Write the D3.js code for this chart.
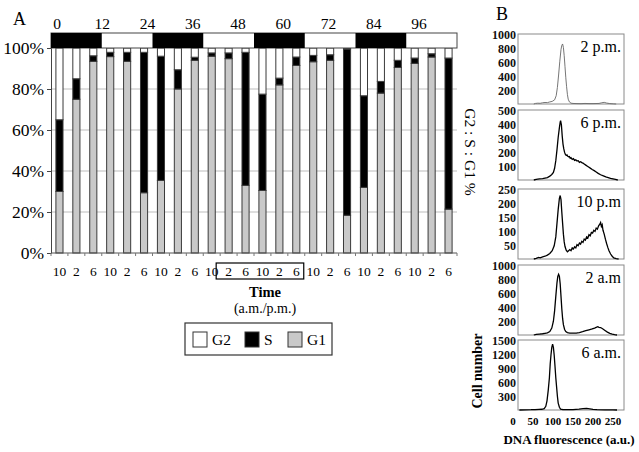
<!DOCTYPE html>
<html>
<head>
<meta charset="utf-8">
<script src="https://cdn.jsdelivr.net/npm/d3@7"></script>
<style>
  body { margin: 0; background: #fff; }
  svg { display: block; font-family: "Liberation Serif", "Times New Roman", serif; }
</style>
</head>
<body>
<svg id="chart" width="639" height="452"></svg>
<script>
// ---- panel A data: cell cycle phases (%) per sampling time ----
const timeLabels = ["10", "2", "6", "10", "2", "6", "10", "2", "6", "10", "2", "6",
                    "10", "2", "6", "10", "2", "6", "10", "2", "6", "10", "2", "6"];
const g1 = [30, 75, 93.5, 95.8, 93.5, 29.4, 35.4, 80, 94, 96, 94.8, 33,
            30.5, 82, 91.5, 93.3, 94, 18.4, 32, 78, 90.5, 92.5, 95.6, 21.4];
const sPhase = [35, 10, 2.7, 2.1, 4.4, 68.5, 60.6, 9.4, 1.5, 1.6, 2.8, 64.9,
                47, 3.3, 4.1, 3.1, 2.7, 81.1, 44.7, 5.7, 3.5, 2.6, 1.6, 73.7];
const g2 = [35, 15, 3.8, 2.1, 2.1, 2.1, 4, 10.6, 4.5, 2.4, 2.4, 2.1,
            22.5, 14.7, 4.4, 3.6, 3.3, 0.5, 23.3, 16.3, 6, 4.9, 2.8, 4.9];
const hourLabels = [0, 12, 24, 36, 48, 60, 72, 84, 96];
const darkPeriods = [[0, 12], [24, 36], [48, 60], [72, 84]];
const yTicks = [0, 20, 40, 60, 80, 100];
const boxedBars = [10, 14];

// ---- panel B data: DNA histograms [fluorescence, cell number] ----
const hist2pm = [[52,0],[56,8],[62,12],[68,10],[74,18],[80,22],[86,20],[92,30],[98,38],[104,60],[108,120],
  [111,240],[114,420],[117,620],[120,790],[122,850],[124,870],[126,820],[128,700],[130,540],[132,380],
  [134,250],[136,140],[138,70],[141,30],[145,12],[150,8],[160,6],[170,5],[180,8],[190,6],[200,6],
  [215,8],[222,18],[228,24],[234,14],[242,6],[252,2],[258,0]];
const hist6pm = [[52,0],[58,4],[66,8],[74,10],[80,14],[86,18],[92,28],[97,40],[101,55],[104,85],[107,140],
  [110,220],[113,310],[116,380],[118,420],[119,430],[121,400],[123,320],[125,260],[127,225],[129,200],
  [131,185],[133,178],[135,182],[137,172],[139,168],[141,170],[143,158],[145,162],[148,150],[151,155],
  [154,142],[157,146],[160,138],[163,140],[166,128],[169,132],[172,126],[175,122],[178,116],[182,108],
  [186,100],[190,92],[194,84],[198,76],[203,68],[208,58],[213,48],[219,38],[226,30],[232,22],[238,18],
  [244,12],[250,8],[256,4],[262,0]];
const hist10pm = [[52,0],[58,2],[64,6],[68,4],[74,8],[80,10],[86,14],[92,20],[98,30],[103,48],[107,80],
  [110,130],[113,180],[116,220],[118,230],[120,215],[122,170],[124,130],[126,90],[128,62],[130,45],
  [133,32],[136,26],[139,30],[142,34],[145,30],[148,40],[151,36],[154,44],[157,40],[160,52],[163,48],
  [166,58],[169,54],[172,64],[175,60],[178,72],[181,68],[184,80],[187,76],[190,88],[193,84],[196,96],
  [199,94],[202,104],[205,100],[208,112],[211,108],[214,120],[217,126],[219,132],[221,118],[223,124],
  [225,104],[228,90],[231,72],[234,56],[237,42],[240,30],[244,18],[248,10],[252,4],[258,1],[264,0]];
const hist2am = [[52,0],[58,10],[66,14],[74,18],[80,25],[86,32],[92,50],[97,100],[101,200],[104,350],
  [107,560],[110,760],[112,850],[114,880],[116,850],[118,740],[120,560],[122,380],[124,240],[126,150],
  [129,80],[132,50],[136,35],[142,28],[150,26],[158,28],[166,36],[174,48],[182,62],[190,76],[198,88],
  [204,100],[208,110],[212,120],[215,112],[219,108],[224,90],[230,66],[236,42],[242,24],[248,12],
  [254,5],[260,0]];
const hist6am = [[16,0],[30,4],[45,6],[55,10],[65,14],[72,16],[78,30],[82,80],[85,200],[88,420],[91,700],
  [93,1000],[95,1200],[97,1360],[99,1430],[101,1360],[103,1190],[105,950],[107,700],[109,500],[111,300],
  [113,150],[116,60],[119,20],[125,8],[135,8],[150,10],[165,18],[175,28],[184,34],[192,26],[200,12],
  [210,6],[230,3],[250,2],[260,0]];
const histLabels = ["2 p.m.", "6 p.m.", "10 p.m", "2 a.m", "6 a.m."];
const histMax = [1000, 500, 250, 1000, 1500];
const histStep = [200, 100, 50, 200, 300];
const fluorTicks = [0, 50, 100, 150, 200, 250];

const svg = d3.select("#chart");

// ================= Panel A =================
const A = { left: 51, right: 457, top: 48, bottom: 253 };

const rows = timeLabels.map((t, i) => ({ i, G1: g1[i], S: sPhase[i], G2: g2[i] }));
const stack = d3.stack().keys(["G1", "S", "G2"]);
const series = stack(rows);
const fills = { G1: "#c9c9c9", S: "#000", G2: "#fff" };

const x = d3.scaleBand().domain(d3.range(timeLabels.length)).range([A.left, A.right]);
const y = d3.scaleLinear().domain([0, 100]).range([A.bottom, A.top]);
const barW = x.bandwidth() * 0.42;

svg.append("text").attr("x", 13).attr("y", 25).attr("font-size", 18).text("A");

// gridlines
svg.append("g")
  .selectAll("line")
  .data(yTicks.filter(d => d > 0 && d < 100))
  .join("line")
  .attr("x1", A.left).attr("x2", A.right)
  .attr("y1", d => y(d)).attr("y2", d => y(d))
  .attr("stroke", "#bdbdbd").attr("stroke-width", 1);

// stacked bars
svg.append("g")
  .selectAll("g")
  .data(series)
  .join("g")
  .attr("fill", d => fills[d.key])
  .selectAll("rect")
  .data(d => d)
  .join("rect")
  .attr("x", d => x(d.data.i) + (x.bandwidth() - barW) / 2)
  .attr("y", d => y(d[1]))
  .attr("width", barW)
  .attr("height", d => y(d[0]) - y(d[1]))
  .attr("stroke", "#3a3a3a")
  .attr("stroke-width", 1);

// y axis
const yAxis = svg.append("g")
  .attr("transform", `translate(${A.left},0)`)
  .call(d3.axisLeft(y).tickValues(yTicks).tickFormat(d => d + "%").tickSize(4).tickPadding(3));
yAxis.select(".domain").attr("stroke", "#444");
yAxis.selectAll(".tick line").attr("stroke", "#444");
yAxis.selectAll("text").attr("font-size", 17.5).attr("font-family", "Liberation Serif").attr("fill", "#000");

// x axis baseline + boundary ticks
svg.append("line")
  .attr("x1", A.left).attr("x2", A.right)
  .attr("y1", A.bottom).attr("y2", A.bottom)
  .attr("stroke", "#555");
svg.append("g")
  .selectAll("line")
  .data(d3.range(timeLabels.length + 1))
  .join("line")
  .attr("x1", d => A.left + d * x.step()).attr("x2", d => A.left + d * x.step())
  .attr("y1", A.bottom).attr("y2", A.bottom + 3)
  .attr("stroke", "#777");

svg.append("g")
  .attr("font-size", 13.5)
  .attr("text-anchor", "middle")
  .selectAll("text")
  .data(timeLabels)
  .join("text")
  .attr("x", (d, i) => x(i) + x.bandwidth() / 2)
  .attr("y", 276)
  .text(d => d);

// box round the highlighted labels
svg.append("rect")
  .attr("x", x(boxedBars[0]) - 4)
  .attr("y", 263)
  .attr("width", x(boxedBars[1]) + x.bandwidth() - x(boxedBars[0]) + 3)
  .attr("height", 16)
  .attr("fill", "none").attr("stroke", "#000").attr("stroke-width", 1.2);

svg.append("text").attr("x", 265).attr("y", 297).attr("text-anchor", "middle")
  .attr("font-size", 14.5).attr("font-weight", "bold").text("Time");
svg.append("text").attr("x", 265).attr("y", 313).attr("text-anchor", "middle")
  .attr("font-size", 14).text("(a.m./p.m.)");

// light / dark bar on top
const hx = d3.scaleLinear().domain([0, 96]).range([A.left, A.right]);
svg.append("rect")
  .attr("x", A.left).attr("y", 33).attr("width", A.right - A.left).attr("height", 15)
  .attr("fill", "#fff").attr("stroke", "#444");
svg.append("g")
  .selectAll("rect")
  .data(darkPeriods)
  .join("rect")
  .attr("x", d => hx(d[0])).attr("y", 33)
  .attr("width", d => hx(d[1]) - hx(d[0])).attr("height", 15)
  .attr("fill", "#000");

const hourPos = d3.scaleLinear().domain([0, 96]).range([57, 419]);
svg.append("g")
  .attr("font-size", 15.5)
  .attr("text-anchor", "middle")
  .selectAll("text")
  .data(hourLabels)
  .join("text")
  .attr("x", d => hourPos(d))
  .attr("y", 29)
  .text(d => d);

svg.append("text")
  .attr("transform", "translate(465,152) rotate(90)")
  .attr("text-anchor", "middle")
  .attr("font-size", 15.5)
  .text("G2 : S : G1 %");

// legend
const legend = svg.append("g");
legend.append("rect").attr("x", 185).attr("y", 323).attr("width", 147).attr("height", 32)
  .attr("fill", "#fff").attr("stroke", "#333").attr("stroke-width", 1.2);
const legendItems = [["G2", 193], ["S", 245], ["G1", 288]];
legendItems.forEach(([k, lx]) => {
  legend.append("rect").attr("x", lx).attr("y", 332).attr("width", 14).attr("height", 15)
    .attr("fill", fills[k]).attr("stroke", "#333");
  legend.append("text").attr("x", lx + 19).attr("y", 345).attr("font-size", 15.5).text(k);
});

// ================= Panel B =================
const histData = [hist2pm, hist6pm, hist10pm, hist2am, hist6am];
const B = { left: 518, right: 624, height: 70 };
const tops = [34, 110, 189, 265, 340];
const fx = d3.scaleLinear().domain([0, 250]).range([513, 613]);

svg.append("text").attr("x", 496).attr("y", 20).attr("font-size", 18).text("B");

histData.forEach((data, k) => {
  const top = tops[k];
  const bottom = top + B.height;
  const hy = d3.scaleLinear().domain([0, histMax[k]]).range([bottom, top + 1]);
  const g = svg.append("g");

  g.append("rect")
    .attr("x", B.left).attr("y", top)
    .attr("width", B.right - B.left).attr("height", B.height)
    .attr("fill", "#fff").attr("stroke", "#8a8a8a");

  const ax = g.append("g")
    .attr("transform", `translate(${B.left},0)`)
    .call(d3.axisLeft(hy)
      .tickValues(d3.range(histStep[k], histMax[k] + 1, histStep[k]))
      .tickFormat(d3.format("d"))
      .tickSize(0).tickPadding(2));
  ax.select(".domain").remove();
  ax.selectAll("text").attr("font-size", 12).attr("font-weight", "bold")
    .attr("font-family", "Liberation Serif").attr("fill", "#111");

  const line = d3.line().x(d => fx(d[0])).y(d => hy(d[1]));
  g.append("path")
    .datum(data)
    .attr("d", line)
    .attr("fill", "none")
    .attr("stroke", k === 0 ? "#666" : "#000")
    .attr("stroke-width", k === 0 ? 0.9 : 1.3);

  g.append("text")
    .attr("x", 621).attr("y", top + 18)
    .attr("text-anchor", "end")
    .attr("font-size", 16)
    .text(histLabels[k]);
});

svg.append("g")
  .attr("font-size", 11)
  .attr("font-weight", "bold")
  .attr("text-anchor", "middle")
  .selectAll("text")
  .data(fluorTicks)
  .join("text")
  .attr("x", d => fx(d))
  .attr("y", 425)
  .text(d => d);

svg.append("text").attr("x", 569).attr("y", 444).attr("text-anchor", "middle")
  .attr("font-size", 13).attr("font-weight", "bold").text("DNA fluorescence (a.u.)");
svg.append("text")
  .attr("transform", "translate(482,371) rotate(-90)")
  .attr("text-anchor", "middle")
  .attr("font-size", 14).attr("font-weight", "bold")
  .text("Cell number");
</script>
</body>
</html>
